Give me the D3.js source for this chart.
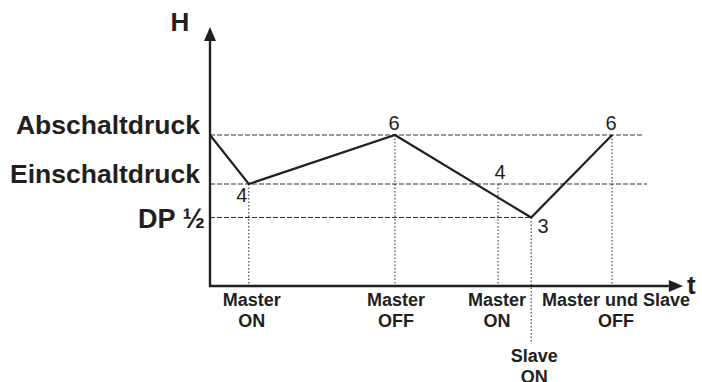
<!DOCTYPE html>
<html>
<head>
<meta charset="utf-8">
<script src="https://cdn.jsdelivr.net/npm/d3@7"></script>
<style>
  body { margin: 0; background: #fff; }
  svg { display: block; font-family: "Liberation Sans", Arial, sans-serif; }
</style>
</head>
<body>
<div id="chart"></div>
<script>
// Pressure levels (bar) shown on the H axis
const levelNames = ['Abschaltdruck', 'Einschaltdruck', 'DP \u00bd'];
const levelValues = [6, 4, 3];
const levelEnds = [91.5, 92.4, 67.9];   // where each dashed guide stops (time units)

// Pressure curve over time
const curveTimes = [0, 8.2, 39.1, 67.9, 85];
const curvePressure = [6, 4, 6, 3, 6];

// Switching events along the time axis
const eventTimes = [8.2, 39.1, 60.9, 67.9, 85];
const eventLevels = [4, 6, 4, 3, 6];
const eventLabels = [['Master', 'ON'], ['Master', 'OFF'], ['Master', 'ON'], ['Slave', 'ON'], ['Master und Slave', 'OFF']];

// Numbers written next to the curve
const markTimes = [8.2, 39.1, 60.9, 67.9, 85];
const markLevels = [4, 6, 4, 3, 6];
const markValues = ['4', '6', '4', '3', '6'];

const width = 702, height = 382;
const ink = '#231f20';

const svg = d3.select('#chart')
    .append('svg')
    .attr('width', width)
    .attr('height', height);

// Scales
const x = d3.scaleLinear().domain([0, 100]).range([210, 683]);
const y = d3.scaleLinear().domain([0, 3, 4, 6]).range([286, 217.5, 184, 135]);

// Dashed level guides
svg.selectAll('.guide')
    .data(levelValues)
    .enter()
    .append('line')
    .attr('class', 'guide')
    .attr('x1', x(0))
    .attr('x2', (d, i) => x(levelEnds[i]))
    .attr('y1', d => y(d))
    .attr('y2', d => y(d))
    .attr('stroke', '#333')
    .attr('stroke-width', 1)
    .attr('stroke-dasharray', '5,2');

// Dotted event lines
svg.selectAll('.event')
    .data(eventTimes)
    .enter()
    .append('line')
    .attr('class', 'event')
    .attr('x1', d => x(d))
    .attr('x2', d => x(d))
    .attr('y1', (d, i) => y(eventLevels[i]))
    .attr('y2', (d, i) => eventLabels[i][0] === 'Slave' ? 343 : y(0))
    .attr('stroke', '#222')
    .attr('stroke-width', 1)
    .attr('stroke-dasharray', '1.5,2');

// Pressure curve
const line = d3.line()
    .x(d => x(d[0]))
    .y(d => y(d[1]));

svg.append('path')
    .datum(curveTimes.map((t, i) => [t, curvePressure[i]]))
    .attr('d', line)
    .attr('fill', 'none')
    .attr('stroke', ink)
    .attr('stroke-width', 2.2)
    .attr('stroke-linejoin', 'miter');

// Axes with arrow heads
svg.append('line')
    .attr('x1', x(0)).attr('x2', x(0))
    .attr('y1', y(0) + 1).attr('y2', 38)
    .attr('stroke', ink).attr('stroke-width', 2.4);
svg.append('path')
    .attr('d', `M${x(0) - 6},${41} L${x(0)},${27} L${x(0) + 6},${41} Z`)
    .attr('fill', ink);

svg.append('line')
    .attr('x1', x(0) - 1).attr('x2', x(97))
    .attr('y1', y(0)).attr('y2', y(0))
    .attr('stroke', ink).attr('stroke-width', 2.4);
svg.append('path')
    .attr('d', `M${x(97)},${y(0) - 6} L${x(100)},${y(0)} L${x(97)},${y(0) + 6} Z`)
    .attr('fill', ink);

// Axis titles
svg.append('text')
    .attr('x', 180).attr('y', 31)
    .attr('text-anchor', 'middle')
    .attr('font-size', '26px').attr('font-weight', 'bold')
    .attr('fill', ink)
    .text('H');
svg.append('text')
    .attr('x', 687).attr('y', 294)
    .attr('font-size', '26px').attr('font-weight', 'bold')
    .attr('fill', ink)
    .text('t');

// Level labels
svg.selectAll('.level-label')
    .data(levelNames)
    .enter()
    .append('text')
    .attr('class', 'level-label')
    .attr('x', (d, i) => i === 2 ? 205 : 200)
    .attr('y', (d, i) => y(levelValues[i]) + (i === 2 ? 10 : -1))
    .attr('text-anchor', 'end')
    .attr('font-size', (d, i) => i === 2 ? '27px' : '26.5px')
    .attr('font-weight', 'bold')
    .attr('fill', ink)
    .text(d => d);

// Numbers next to the curve
const markDx = [-7, -1, 2, 12, -1];
const markDy = [18, -5, -5, 15, -5];
svg.selectAll('.mark')
    .data(markValues)
    .enter()
    .append('text')
    .attr('class', 'mark')
    .attr('x', (d, i) => x(markTimes[i]) + markDx[i])
    .attr('y', (d, i) => y(markLevels[i]) + markDy[i])
    .attr('text-anchor', 'middle')
    .attr('font-size', '20px')
    .attr('fill', ink)
    .text(d => d);

// Event labels below the time axis
const eventDx = [3, 1, -1, 3, 4];
const eventGroups = svg.selectAll('.event-label')
    .data(eventLabels)
    .enter()
    .append('text')
    .attr('class', 'event-label')
    .attr('text-anchor', 'middle')
    .attr('font-size', '18px')
    .attr('font-weight', 'bold')
    .attr('fill', ink);

eventGroups.each(function(d, i) {
    const base = d[0] === 'Slave' ? 362 : 306;
    d3.select(this).selectAll('tspan')
        .data(d)
        .enter()
        .append('tspan')
        .attr('x', x(eventTimes[i]) + eventDx[i])
        .attr('y', (s, j) => base + j * 21)
        .text(s => s);
});
</script>
</body>
</html>
